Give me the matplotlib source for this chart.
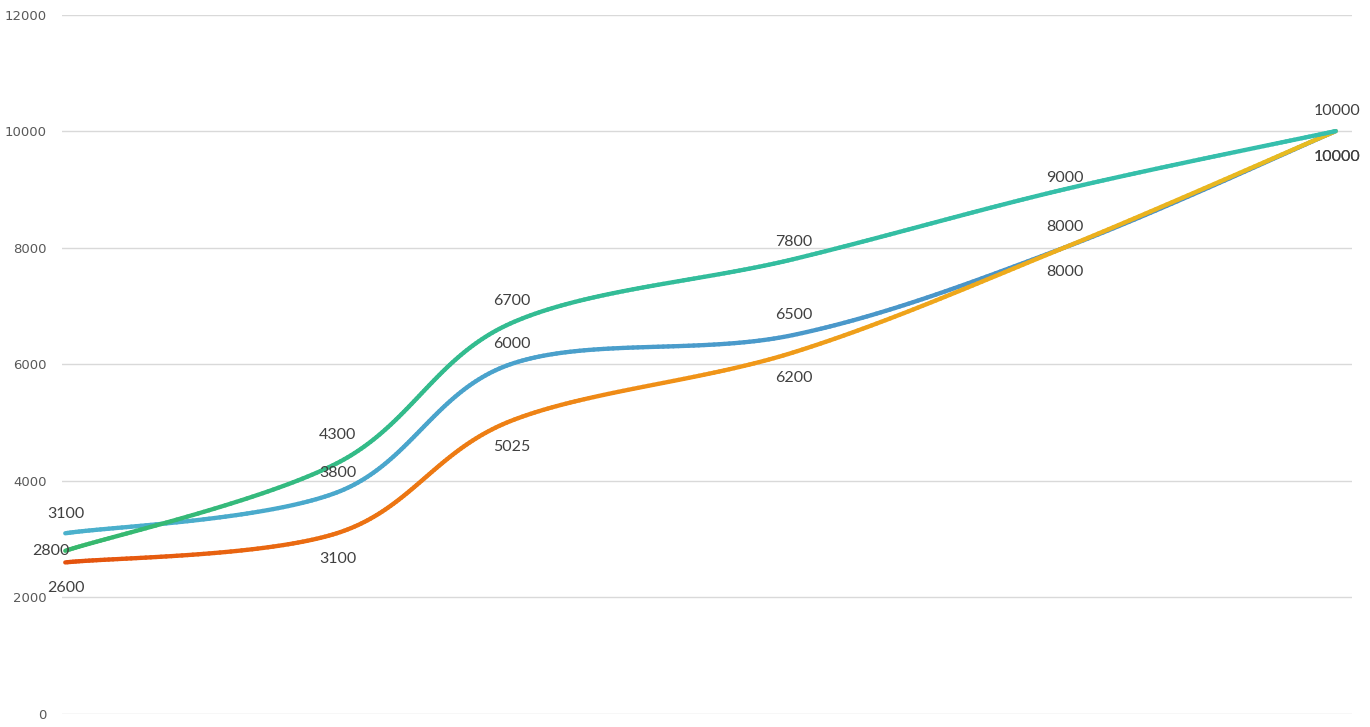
import numpy as np
import matplotlib
matplotlib.use("Agg")
import matplotlib.pyplot as plt
from matplotlib.collections import LineCollection
from matplotlib.colors import LinearSegmentedColormap

# x positions of the points (scatter chart, uneven spacing)
x_vals = [0, 1.0, 1.64, 2.68, 3.68, 4.68]

green_vals = [2800, 4300, 6700, 7800, 9000, 10000]
blue_vals = [3100, 3800, 6000, 6500, 8000, 10000]
orange_vals = [2600, 3100, 5025, 6200, 8000, 10000]

green_cols = ["#37b86c", "#33bb8a", "#33bd9c", "#35bfa8", "#36bfae"]
blue_cols = ["#4bb1cc", "#4aa6cc", "#4a9bcb", "#4a94c8", "#4a8dc4"]
orange_cols = ["#e4520e", "#ec7412", "#f09418", "#eeac1c", "#e6be22"]

# label placement: (where, pixel distance of label centre from the point)
green_pos = [("left", 2), ("above", 30), ("above", 24), ("above", 19), ("above", 13), ("above", 22)]
blue_pos = [("above", 21), ("above", 21), ("above", 22), ("above", 22), ("above", 22), ("below", 24)]
orange_pos = [("below", 24), ("below", 24), ("below", 24), ("below", 24), ("below", 23), ("below", 24)]


def smooth(xs, ys, n=60):
    # excel style smoothed line (bezier through points)
    xs = np.asarray(xs, float)
    ys = np.asarray(ys, float)
    px = np.concatenate([[xs[0]], xs, [xs[-1]]])
    py = np.concatenate([[ys[0]], ys, [ys[-1]]])
    out_x, out_y = [], []
    t = np.linspace(0, 1, n)
    for i in range(len(xs) - 1):
        p0 = np.array([px[i + 1], py[i + 1]])
        p3 = np.array([px[i + 2], py[i + 2]])
        c1 = p0 + (p3 - np.array([px[i], py[i]])) / 6
        c2 = p3 - (np.array([px[i + 3], py[i + 3]]) - p0) / 6
        bx = (1 - t) ** 3 * p0[0] + 3 * (1 - t) ** 2 * t * c1[0] + 3 * (1 - t) * t ** 2 * c2[0] + t ** 3 * p3[0]
        by = (1 - t) ** 3 * p0[1] + 3 * (1 - t) ** 2 * t * c1[1] + 3 * (1 - t) * t ** 2 * c2[1] + t ** 3 * p3[1]
        out_x.extend(bx if i == 0 else bx[1:])
        out_y.extend(by if i == 0 else by[1:])
    return np.array(out_x), np.array(out_y)


def gradient_line(ax, xs, ys, cols, zorder):
    sx, sy = smooth(xs, ys)
    pts = np.column_stack([sx, sy]).reshape(-1, 1, 2)
    segs = np.concatenate([pts[:-1], pts[1:]], axis=1)
    cmap = LinearSegmentedColormap.from_list("g", cols)
    lc = LineCollection(segs, cmap=cmap, linewidth=3.1, capstyle="round", zorder=zorder)
    lc.set_array((sx[:-1] - xs[0]) / (xs[-1] - xs[0]))
    lc.set_clim(0, 1)
    ax.add_collection(lc)


fig = plt.figure(figsize=(13.7, 7.27), dpi=100)
ax = fig.add_axes([62 / 1370, 13 / 727, (1352 - 62) / 1370, (714 - 14.5) / 727])

gradient_line(ax, x_vals, blue_vals, blue_cols, 3)
gradient_line(ax, x_vals, orange_vals, orange_cols, 4)
gradient_line(ax, x_vals, green_vals, green_cols, 5)

ax.set_xlim(-0.012, 4.74)
ax.set_ylim(0, 12000)
ax.set_yticks(range(0, 12001, 2000))
ax.set_xticks([])
ax.grid(axis="y", color="#d9d9d9", linewidth=1)
ax.set_axisbelow(True)
for s in ax.spines.values():
    s.set_visible(False)
ax.tick_params(axis="y", length=0, pad=11, labelsize=9.5, labelcolor="#595959")
for lab in ax.get_yticklabels():
    lab.set_fontfamily("DejaVu Sans")

lbl = dict(fontsize=11.5, color="#404040", family="Lato", annotation_clip=False,
           textcoords="offset pixels", va="baseline", zorder=10)
half_cap = 5.8  # half the digit height in pixels

def put(x, y, where, d):
    if where == "above":
        ax.annotate(str(y), (x, y), xytext=(1, d - half_cap), ha="center", **lbl)
    elif where == "below":
        ax.annotate(str(y), (x, y), xytext=(1, -d - half_cap), ha="center", **lbl)
    else:
        ax.annotate(str(y), (x, y), xytext=(4, d - half_cap), ha="right", **lbl)

for x, y, (w, d) in zip(x_vals, green_vals, green_pos):
    put(x, y, w, d)
for x, y, (w, d) in zip(x_vals, blue_vals, blue_pos):
    put(x, y, w, d)
for x, y, (w, d) in zip(x_vals, orange_vals, orange_pos):
    put(x, y, w, d)

fig.savefig("out.png", dpi=100)
